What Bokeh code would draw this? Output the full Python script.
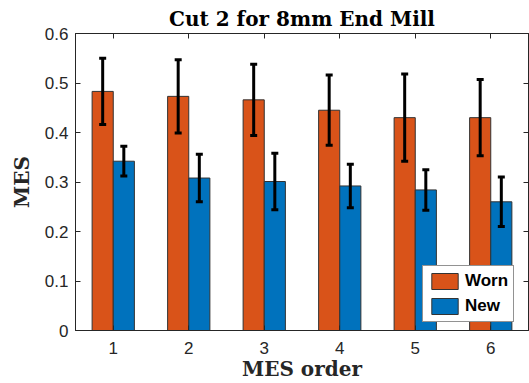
from bokeh.plotting import figure
from bokeh.models import (LinearAxis, FixedTicker, Whisker, TeeHead, ColumnDataSource,
                          Legend, LegendItem, Range1d, CustomLabelingPolicy)
from bokeh.transform import dodge
from bokeh.embed import file_html
from bokeh.resources import INLINE

# ---- data ----
orders = [1, 2, 3, 4, 5, 6]
worn_mean = [0.483, 0.473, 0.466, 0.445, 0.430, 0.430]
worn_err = [0.067, 0.074, 0.072, 0.071, 0.088, 0.077]
new_mean = [0.342, 0.308, 0.301, 0.292, 0.284, 0.260]
new_err = [0.030, 0.048, 0.057, 0.044, 0.041, 0.050]
x_ticks = [1, 2, 3, 4, 5, 6]
y_ticks = [0, 0.1, 0.2, 0.3, 0.4, 0.5, 0.6]
y_tick_labels = ["0", "0.1", "0.2", "0.3", "0.4", "0.5", "0.6"]
series_names = ["Worn", "New"]

WORN = "#D95319"
NEW = "#0072BD"
AXC = "#262626"
BW = 0.28

src = ColumnDataSource(dict(
    x=orders,
    worn=worn_mean,
    new=new_mean,
    wu=[m + e for m, e in zip(worn_mean, worn_err)],
    wl=[m - e for m, e in zip(worn_mean, worn_err)],
    nu=[m + e for m, e in zip(new_mean, new_err)],
    nl=[m - e for m, e in zip(new_mean, new_err)],
))

p = figure(width=529, height=383, output_backend="svg", toolbar_location=None,
           x_range=Range1d(0.5, 6.5), y_range=Range1d(0, 0.6),
           min_border_left=75, min_border_right=1, min_border_top=33, min_border_bottom=53)
p.xgrid.visible = False
p.ygrid.visible = False
p.outline_line_color = AXC
p.outline_line_width = 1
p.background_fill_color = "white"

r_worn = p.vbar(x=dodge("x", -BW / 2), top="worn", width=BW, source=src,
                fill_color=WORN, line_color="#333333", line_width=1)
r_new = p.vbar(x=dodge("x", BW / 2), top="new", width=BW, source=src,
               fill_color=NEW, line_color="#333333", line_width=1)

for base, up, lo in [(dodge("x", -BW / 2), "wu", "wl"), (dodge("x", BW / 2), "nu", "nl")]:
    w = Whisker(base=base, upper=up, lower=lo, source=src, line_color="black", line_width=3,
                level="annotation",
                upper_head=TeeHead(size=7, line_width=3, line_color="black"),
                lower_head=TeeHead(size=7, line_width=3, line_color="black"))
    p.add_layout(w)

tick_font = "Liberation Sans"
for ax in [p.xaxis[0], p.yaxis[0]]:
    ax.major_tick_in = 5
    ax.major_tick_out = 0
    ax.minor_tick_in = 0
    ax.minor_tick_out = 0
    ax.axis_line_color = AXC
    ax.major_tick_line_color = AXC
    ax.major_label_text_font = tick_font
    ax.major_label_text_font_size = "17px"
    ax.major_label_text_color = AXC
    ax.axis_label_text_font = "DejaVu Serif"
    ax.axis_label_text_font_style = "bold"
    ax.axis_label_text_font_size = "20px"
    ax.axis_label_text_color = AXC

p.xaxis[0].ticker = FixedTicker(ticks=x_ticks)
p.yaxis[0].ticker = FixedTicker(ticks=y_ticks)
p.yaxis[0].major_label_overrides = {t: l for t, l in zip(y_ticks, y_tick_labels)}
p.xaxis[0].axis_label = "MES order"
p.yaxis[0].axis_label = "MES"
p.xaxis[0].major_label_standoff = 11
p.yaxis[0].major_label_standoff = 7
p.xaxis[0].axis_label_standoff = 0
p.yaxis[0].axis_label_standoff = 8

hide = "for (const i of indices) { indices.unset(i) }\nreturn indices"
top_ax = LinearAxis(ticker=FixedTicker(ticks=x_ticks), major_tick_in=5, major_tick_out=0,
                    minor_tick_in=0, minor_tick_out=0, major_label_text_font_size="0px",
                    major_label_policy=CustomLabelingPolicy(code=hide),
                    major_label_standoff=0, axis_line_color=AXC, major_tick_line_color=AXC)
right_ax = LinearAxis(ticker=FixedTicker(ticks=y_ticks), major_tick_in=5, major_tick_out=0,
                      minor_tick_in=0, minor_tick_out=0, major_label_text_font_size="0px",
                      major_label_policy=CustomLabelingPolicy(code=hide),
                      major_label_standoff=0, axis_line_color=AXC, major_tick_line_color=AXC)
p.add_layout(top_ax, "above")
p.add_layout(right_ax, "right")

p.title.text = "Cut 2 for 8mm End Mill"
p.title.align = "center"
p.title.text_font = "DejaVu Serif"
p.title.text_font_style = "bold"
p.title.text_font_size = "20px"
p.title.text_color = "black"
p.title.standoff = 5

legend = Legend(items=[LegendItem(label=series_names[0], renderers=[r_worn]),
                       LegendItem(label=series_names[1], renderers=[r_new])],
                location=(347, 8), glyph_width=33, glyph_height=20, label_standoff=4,
                spacing=5, padding=5, margin=0,
                label_text_font="Liberation Sans", label_text_font_style="bold",
                label_text_font_size="17px", label_text_color="black",
                border_line_color=AXC, border_line_width=1, background_fill_alpha=1)
p.add_layout(legend, "center")

open("out.html", "w").write(file_html(p, INLINE))
